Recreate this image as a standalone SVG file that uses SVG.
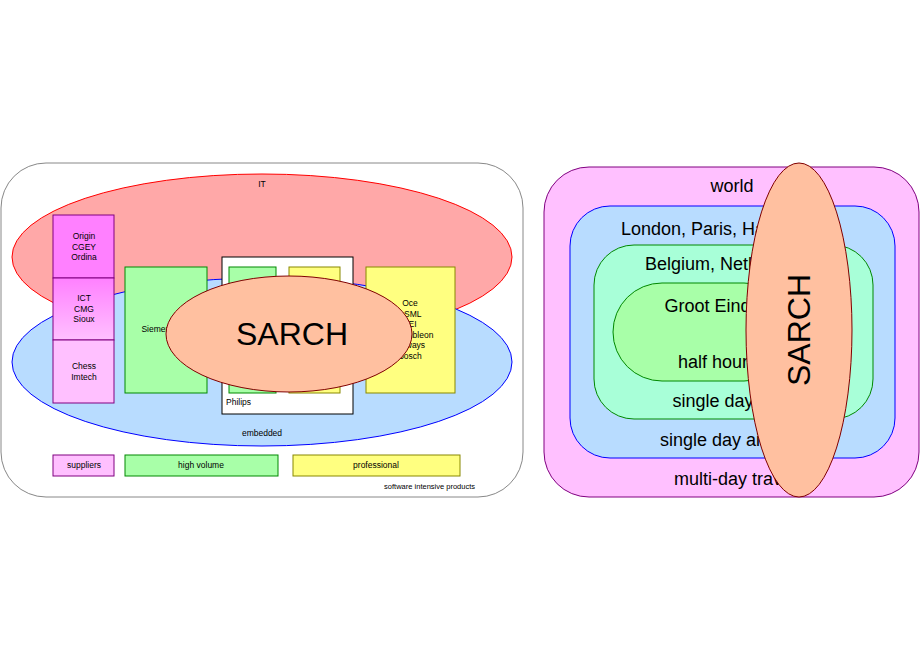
<svg xmlns="http://www.w3.org/2000/svg" width="920" height="660" viewBox="0 0 920 660">
<style>
text{font-family:"Liberation Sans",Arial,sans-serif;fill:#000}
.s{font-size:8.5px;text-anchor:middle}
.r{font-size:18px;text-anchor:middle}
</style>
<defs>
<linearGradient id="g" x1="0" y1="0" x2="0" y2="1"><stop offset="0" stop-color="#ff80ff"/><stop offset="1" stop-color="#ffc0ff"/></linearGradient>
</defs>
<rect width="920" height="660" fill="#fff"/>
<g id="left">
<rect x="1" y="163" width="522" height="334" rx="45" fill="#fff" stroke="#888"/>
<ellipse id="it" cx="262" cy="257" rx="250" ry="83" fill="#ffa8a8" stroke="#f00"/>
<ellipse id="embedded" cx="262" cy="362" rx="250" ry="84" fill="#b8dcff" stroke="#00f"/>
<path d="M12,257 A250,83 0 0 0 512,257" fill="#ffa8a8" opacity="0"/>
<text x="262" y="187" class="s">IT</text>
<text x="262" y="436" class="s">embedded</text>
<g id="sup1"><rect x="53" y="215" width="61" height="63" fill="#ff80ff" stroke="#800080"/><text class="s" x="84" y="239">Origin</text><text class="s" x="84" y="249.5">CGEY</text><text class="s" x="84" y="260">Ordina</text></g>
<g id="sup2"><rect x="53" y="278" width="61" height="62" fill="url(#g)" stroke="#800080"/><text class="s" x="84" y="301">ICT</text><text class="s" x="84" y="311.5">CMG</text><text class="s" x="84" y="322">Sioux</text></g>
<g id="sup3"><rect x="53" y="340" width="61" height="63" fill="#ffc0ff" stroke="#800080"/><text class="s" x="84" y="369">Chess</text><text class="s" x="84" y="379.5">Imtech</text></g>
<g id="siemens"><rect x="125" y="267" width="82" height="126" fill="#a8ffa8" stroke="#080"/><text class="s" x="158" y="332">Siemens</text></g>
<g id="philips"><rect x="222" y="257" width="131" height="157" fill="#fff" stroke="#000"/><rect x="229" y="267" width="47" height="126" fill="#a8ffa8" stroke="#080"/><rect x="289" y="267" width="51" height="126" fill="#ffff80" stroke="#880"/><text x="226" y="405" font-size="8.5">Philips</text></g>
<g id="prof"><rect x="366" y="267" width="89" height="126" fill="#ffff80" stroke="#880"/>
<text class="s" x="410" y="306">Oce</text><text class="s" x="410" y="316.5">ASML</text><text class="s" x="410" y="327">FEI</text><text class="s" x="410" y="337.5">Assembleon</text><text class="s" x="410" y="348">Neways</text><text class="s" x="410" y="358.5">Bosch</text></g>
<g id="sarchL"><ellipse cx="289" cy="334" rx="123" ry="58" fill="#ffc0a0" stroke="#800000"/><text x="292" y="345" font-size="32" text-anchor="middle">SARCH</text></g>
<g id="legend">
<rect x="53" y="455" width="61" height="21" fill="#ffc0ff" stroke="#800080"/><text class="s" x="84" y="468">suppliers</text>
<rect x="125" y="455" width="153" height="21" fill="#a8ffa8" stroke="#080"/><text class="s" x="201" y="468">high volume</text>
<rect x="293" y="455" width="167" height="21" fill="#ffff80" stroke="#880"/><text class="s" x="376" y="468">professional</text>
<text x="475" y="489" font-size="7.5" text-anchor="end">software intensive products</text>
</g>
</g>
<g id="right">
<rect x="544" y="167" width="375" height="330" rx="45" fill="#ffc0ff" stroke="#800080"/>
<rect x="570" y="206" width="325" height="252" rx="40" fill="#b8dcff" stroke="#00f"/>
<rect x="594" y="245" width="279" height="174" rx="40" fill="#a8ffd8" stroke="#080"/>
<rect x="613" y="283" width="180" height="98" rx="49" fill="#a8ffa8" stroke="#080"/>
<text class="r" x="732" y="192">world</text>
<text class="r" x="731" y="235">London, Paris, Hamburg, ...</text>
<text class="r" x="731" y="270">Belgium, Netherlands</text>
<text class="r" x="732" y="312">Groot Eindhoven</text>
<text class="r" x="735" y="368">half hour drive</text>
<text class="r" x="735" y="407">single day drive</text>
<text class="r" x="735" y="446">single day airplane</text>
<text class="r" x="735" y="485">multi-day travel</text>
<g id="sarchR"><ellipse cx="799" cy="330" rx="53" ry="167" fill="#ffc0a0" stroke="#800000"/><text transform="translate(810,330) rotate(-90)" font-size="32" text-anchor="middle">SARCH</text></g>
</g>
</svg>
